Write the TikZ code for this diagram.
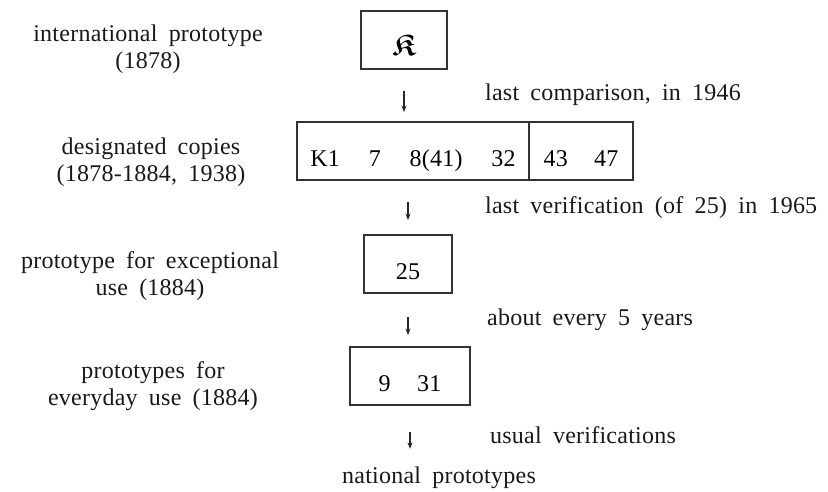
\documentclass[tikz,border=0pt]{standalone}
\usepackage{amsmath,amssymb}
\usepackage{fontspec}
\setmainfont{Liberation Serif}[WordSpace=1.8, LetterSpace=1]
\usetikzlibrary{arrows.meta}
\newcommand\lowtext[1]{\raisebox{-15.5pt}[0pt][0pt]{#1}}
\begin{document}
\begin{tikzpicture}[x=1pt,y=-1pt, font=\fontsize{24}{27}\selectfont,
  box/.style={draw=black!80, line width=1.1pt, inner sep=0pt, outer sep=0pt,
    minimum height=58pt},
  lab/.style={align=center, inner sep=0pt, text=black!90},
  note/.style={anchor=west, inner sep=0pt, text=black!90},
  arr/.style={draw=black!85, line width=1.1pt, -{Stealth[length=6.5pt,width=5pt]}}]
\useasboundingbox (0,0) rectangle (828,491);
% boxes
\node[box, minimum width=86pt] (K) at (404,40) {\lowtext{\scalebox{1.25}{$\boldsymbol{\mathfrak{K}}$}}};
\node[box, minimum width=232pt] (cl) at (413,151) {\lowtext{K1\hspace{1.2em}7\hspace{1.2em}8(41)\hspace{1.2em}32}};
\node[box, minimum width=104pt, anchor=west] (cr) at (cl.east) {\lowtext{43\hspace{1.1em}47}};
\node[box, minimum width=88pt] (b25) at (408,264) {\lowtext{25}};
\node[box, minimum width=120pt] (b931) at (410,376) {\lowtext{9\hspace{1.1em}31}};
\node[lab] (nat) at (439,478) {national prototypes};
% left labels
\node[lab] (l1) at (148,49) {international prototype\\(1878)};
\node[lab] (l2) at (151,162) {designated copies\\(1878-1884, 1938)};
\node[lab] (l3) at (150,276) {prototype for exceptional\\use (1884)};
\node[lab] (l4) at (153,386) {prototypes for\\everyday use (1884)};
% right notes
\node[note] (n1) at (485,95) {last comparison, in 1946};
\node[note] (n2) at (485,208) {last verification (of 25) in 1965};
\node[note] (n3) at (487,320) {about every 5 years};
\node[note] (n4) at (490,435) {usual verifications};
% arrows
\draw[arr, shorten <=22pt, shorten >=10pt] (K.south) -- (K.south |- cl.north);
\draw[arr, shorten <=22pt, shorten >=15pt] (b25.north |- cl.south) -- (b25.north);
\draw[arr, shorten <=24pt, shorten >=12pt] (b25.south) -- (b25.south |- b931.north);
\draw[arr, shorten <=27pt, shorten >=18pt] (b931.south) -- (b931.south |- nat.north);
\end{tikzpicture}
\end{document}
